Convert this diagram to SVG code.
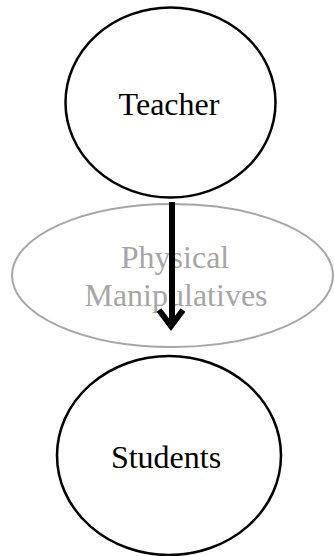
<svg xmlns="http://www.w3.org/2000/svg" width="334" height="556" viewBox="0 0 334 556">
<style>
.node{fill:none;stroke:#000;stroke-width:2.5}
.lbl{font-family:"Liberation Serif","Times New Roman",serif;font-size:32px;text-anchor:middle;fill:#000}
.ghost{fill:none;stroke:#a6a6a6;stroke-width:2}
.glbl{font-family:"Liberation Serif","Times New Roman",serif;font-size:32px;text-anchor:middle;fill:#a6a6a6}
.conn{fill:none;stroke:#000;stroke-width:6;stroke-linecap:butt;stroke-linejoin:miter}
</style>
<rect width="334" height="556" fill="#fff"/>
<g id="teacher">
<ellipse class="node" cx="170.5" cy="102.5" rx="105" ry="95"/>
<text class="lbl" x="169" y="115">Teacher</text>
</g>
<g id="manipulatives">
<ellipse class="ghost" cx="172.5" cy="275.5" rx="160.5" ry="71.5"/>
<text class="glbl" x="175" y="268">Physical</text>
<text class="glbl" x="176" y="306">Manipulatives</text>
</g>
<g id="students">
<ellipse class="node" cx="169" cy="455.5" rx="112" ry="99.5"/>
<text class="lbl" x="166" y="468">Students</text>
</g>
<g id="connectors">
<line class="conn" x1="172" y1="202" x2="172" y2="326"/>
<polyline class="conn" points="159,310 171,326 183,310"/>
</g>
</svg>
